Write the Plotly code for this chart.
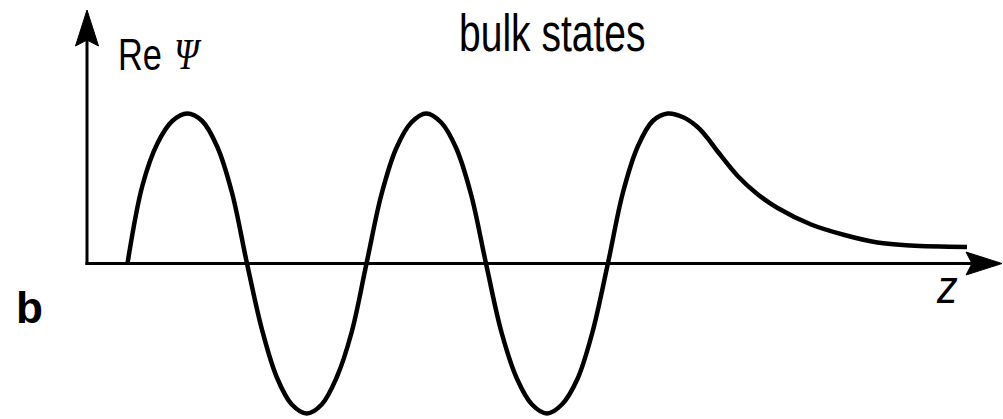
import json
import plotly.graph_objects as go

# Re(psi) of a bulk state along z: oscillating inside, decaying outside
z_vals = [0.0, 0.125, 0.25, 0.375, 0.5, 0.625, 0.75, 0.875, 1.0,
          1.125, 1.25, 1.375, 1.5, 1.625, 1.75, 1.875, 2.0,
          2.125, 2.25, 2.375, 2.5, 2.625, 2.75, 2.875, 3.0,
          3.13, 3.26, 3.385, 3.51, 3.635, 3.765, 3.89, 4.02,
          4.145, 4.27, 4.395, 4.52, 4.65, 4.77, 4.85, 4.94, 5.11, 5.275,
          5.44, 5.72, 6.0, 6.275, 6.55, 7.025]
psi_vals = [0.0, 0.52, 0.80, 0.95, 1.0, 0.95, 0.78, 0.47, 0.0,
            -0.44, -0.76, -0.94, -1.0, -0.94, -0.76, -0.46, 0.0,
            0.46, 0.77, 0.94, 1.0, 0.94, 0.77, 0.46, 0.0,
            -0.46, -0.77, -0.94, -1.0, -0.94, -0.77, -0.46, 0.0,
            0.47, 0.78, 0.95, 1.0, 0.975, 0.91, 0.84, 0.745, 0.58, 0.46,
            0.37, 0.26, 0.19, 0.14, 0.12, 0.11]

title_text = "bulk states"
y_label = "Re"
y_symbol = "Ψ"
x_label = "z"
panel_label = "b"

W, H = 1003, 419
X0_PX, Y0_PX = 127.5, 263.5    # pixel of (z=0, psi=0)
SX, SY = 119.5, 150.0          # pixels per unit

x_range = [-X0_PX / SX, (W - X0_PX) / SX]
y_range = [-(H - Y0_PX) / SY, Y0_PX / SY]

axis_z = (87 - X0_PX) / SX     # vertical axis position
y_tip = (Y0_PX - 10) / SY
x_tip = (1002 - X0_PX) / SX

AR_LEN, AR_HALF, AR_NOTCH = 36, 11.5, 6   # arrowhead size in pixels


def arrow_path(tx, ty, dx, dy):
    """Filled arrowhead with its tip at (tx, ty) pointing along (dx, dy) in px."""
    px, py = -dy, dx
    pts = [
        (0, 0),
        (-dx * AR_LEN + px * AR_HALF, -dy * AR_LEN + py * AR_HALF),
        (-dx * (AR_LEN - AR_NOTCH), -dy * (AR_LEN - AR_NOTCH)),
        (-dx * AR_LEN - px * AR_HALF, -dy * AR_LEN - py * AR_HALF),
    ]
    coords = [(tx + ox / SX, ty + oy / SY) for ox, oy in pts]
    return "M " + " L ".join(f"{a},{b}" for a, b in coords) + " Z"


fig = go.Figure()
fig.add_trace(go.Scatter(
    x=z_vals, y=psi_vals, mode="lines",
    line=dict(color="black", width=4.5, shape="spline", smoothing=1.0),
    hoverinfo="skip", showlegend=False,
))

shapes = [
    # vertical axis
    dict(type="line", x0=axis_z, y0=-1.5 / SY, x1=axis_z, y1=y_tip - (AR_LEN - AR_NOTCH) / SY,
         line=dict(color="black", width=3)),
    dict(type="path", path=arrow_path(axis_z, y_tip, 0, 1),
         fillcolor="black", line=dict(color="black", width=1)),
    # horizontal axis
    dict(type="line", x0=axis_z - 1.5 / SX, y0=0, x1=x_tip - (AR_LEN - AR_NOTCH) / SX, y1=0,
         line=dict(color="black", width=3)),
    dict(type="path", path=arrow_path(x_tip, 0, 1, 0),
         fillcolor="black", line=dict(color="black", width=1)),
]


def pp(x, y):
    return x / W, 1 - y / H


sans = "Liberation Sans, Arial, Helvetica, sans-serif"
serif = "Liberation Serif, Times New Roman, serif"

# (text, pixel x, pixel y, font family, size, horizontal squeeze)
labels = [
    (title_text, 457, 33, sans, 52, 0.75),
    (y_label, 116, 55, sans, 44, 0.78),
    ("<i>" + y_symbol + "</i>", 172, 55, serif, 44, 0.8),
    ("<i>" + x_label + "</i>", 934, 287, sans, 46, 0.9),
    ("<b>" + panel_label + "</b>", 14, 307, sans, 44, 1.0),
]

annotations = []
squeeze = []
for text, x, y, fam, size, sq in labels:
    ax, ay = pp(x, y)
    annotations.append(dict(text=text, x=ax, y=ay, xref="paper", yref="paper",
                            xanchor="left", yanchor="middle", showarrow=False,
                            font=dict(family=fam, size=size, color="black")))
    squeeze.append(sq)

fig.update_layout(
    width=W, height=H,
    margin=dict(l=0, r=0, t=0, b=0),
    paper_bgcolor="white", plot_bgcolor="white",
    xaxis=dict(range=x_range, visible=False, fixedrange=True),
    yaxis=dict(range=y_range, visible=False, fixedrange=True),
    shapes=shapes, annotations=annotations,
    showlegend=False,
)

# narrow the label lettering horizontally, keeping each label's left edge
post = """
var gd = document.getElementById('{plot_id}');
var sq = SQUEEZE;
gd.querySelectorAll('g.annotation').forEach(function (g) {
  var i = +g.getAttribute('data-index');
  var t = g.querySelector('text.annotation-text');
  if (t && sq[i] !== undefined) {
    t.style.transformBox = 'fill-box';
    t.style.transformOrigin = '0% 50%';
    t.style.transform = 'scaleX(' + sq[i] + ')';
  }
});
""".replace("SQUEEZE", json.dumps(squeeze))

fig.write_html("out.html", post_script=post)
